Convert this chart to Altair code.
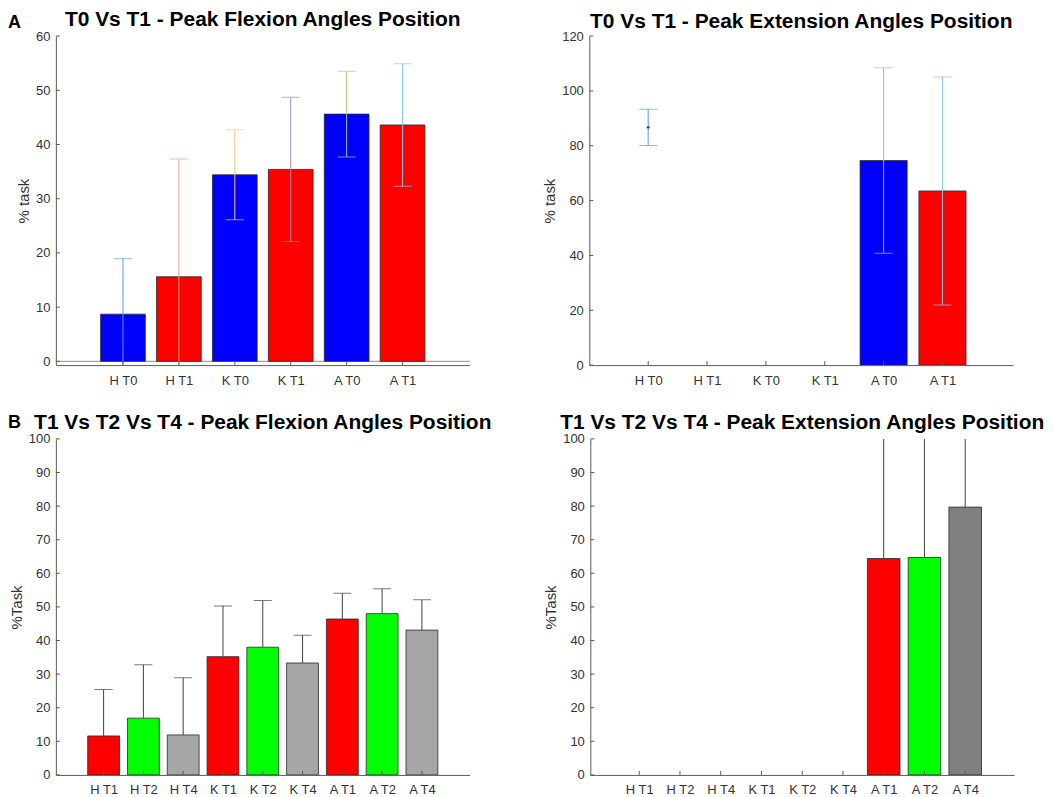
import json
import altair as alt
import pandas as pd

FONT = "Liberation Sans"

# ---------------- Panel A : T0 vs T1 ----------------
a_labels = ["H T0", "H T1", "K T0", "K T1", "A T0", "A T1"]
a_bar_colors = ["#0000FF", "#FF0000", "#0000FF", "#FF0000", "#0000FF", "#FF0000"]
a_err_colors = ["#5B9BD0", "#E3A585", "#EFCB6B", "#A985BD", "#A8C67E", "#86CBE8"]

a_flex_mean = [8.7, 15.6, 34.4, 35.4, 45.6, 43.6]
a_flex_err = [10.2, 21.7, 8.3, 13.3, 7.9, 11.3]

a_ext_bar = [None, None, None, None, 74.6, 63.5]
a_ext_mean = [86.7, None, None, None, 74.6, 63.5]
a_ext_err = [6.6, None, None, None, 33.8, 41.6]
a_ext_dot = [86.7, None, None, None, None, None]

# ---------------- Panel B : T1 vs T2 vs T4 ----------------
b_labels = ["H T1", "H T2", "H T4", "K T1", "K T2", "K T4", "A T1", "A T2", "A T4"]
b_flex_colors = ["#FF0000", "#00FF00", "#A6A6A6"] * 3
b_ext_colors = ["#FF0000", "#00FF00", "#808080"] * 3
b_err_colors = ["#404040"] * 9

b_flex_mean = [11.6, 16.9, 11.9, 35.2, 38.0, 33.3, 46.4, 48.0, 43.1]
b_flex_err = [13.8, 15.9, 17.0, 15.1, 13.9, 8.3, 7.7, 7.4, 9.0]

b_ext_mean = [0, 0, 0, 0, 0, 0, 64.4, 64.7, 79.7]
b_ext_err = [None, None, None, None, None, None, 44.0, 41.0, 27.0]

AXIS_COLOR = "#5a5a5a"
LABEL_COLOR = "#333333"
TITLE_SIZE = 21


def panel(labels, bar, mean, err, bar_colors, err_colors, xdom, ydom, yticks,
          title, ytitle, w, h, two_sided, title_offset, dots=None, baseline=False,
          letter=None, letter_y=-8):
    n = len(labels)
    pos = list(range(1, n + 1))
    xs = alt.Scale(domain=xdom, nice=False, zero=False)
    ys = alt.Scale(domain=ydom, nice=False, zero=False)
    label_expr = json.dumps(labels) + "[datum.value - 1]"
    xaxis = alt.Axis(values=pos, labelExpr=label_expr, ticks=False, tickSize=0,
                     grid=False, domainColor=AXIS_COLOR, labelColor=LABEL_COLOR,
                     labelFont=FONT, labelFontSize=13, labelPadding=9, title=None,
                     labelFlush=False)
    yaxis = alt.Axis(values=yticks, ticks=False, tickSize=0, grid=False,
                     domainColor=AXIS_COLOR, labelColor=LABEL_COLOR, labelFont=FONT,
                     labelFontSize=13, labelPadding=6, title=ytitle, titleFont=FONT,
                     titleFontSize=15, titleFontWeight="normal", titleColor=LABEL_COLOR,
                     titlePadding=4, labelFlush=False)

    def X(field):
        return alt.X(field, scale=xs, axis=xaxis, title=None)

    def Y(field):
        return alt.Y(field, scale=ys, axis=yaxis, title=ytitle)

    bar_rows = [dict(pos=p, v=b, c=c) for p, b, c in zip(pos, bar, bar_colors) if b is not None]
    bars_df = pd.DataFrame(bar_rows)
    bars = alt.Chart(bars_df).transform_calculate(
        x1="datum.pos - 0.4", x2="datum.pos + 0.4", base="0"
    ).mark_bar(strokeWidth=0.8, clip=True).encode(
        x=X("x1:Q"), x2="x2:Q", y=Y("v:Q"), y2="base:Q",
        color=alt.Color("c:N", scale=None),
        stroke=alt.condition("datum.v > 0", alt.value("#2a2a2a"), alt.value(None)),
    )

    err_rows, cap_rows = [], []
    for p, m, e, c in zip(pos, mean, err, err_colors):
        if m is None or e is None:
            continue
        lo = m - e if two_sided else m
        hi = m + e
        err_rows.append(dict(pos=p, lo=lo, hi=hi, c=c))
        cap_rows.append(dict(pos=p, y=hi, c=c))
        if two_sided:
            cap_rows.append(dict(pos=p, y=lo, c=c))
    err_df = pd.DataFrame(err_rows)
    cap_df = pd.DataFrame(cap_rows)

    rules = alt.Chart(err_df).mark_rule(strokeWidth=1, clip=True).encode(
        x=X("pos:Q"), y=Y("lo:Q"), y2="hi:Q",
        color=alt.Color("c:N", scale=None),
    )
    caps = alt.Chart(cap_df).mark_tick(orient="horizontal", size=18, thickness=1,
                                       clip=True).encode(
        x=X("pos:Q"), y=Y("y:Q"), color=alt.Color("c:N", scale=None),
    )

    # MATLAB-style inward ticks
    ytick_df = pd.DataFrame({"t": yticks})
    yt = alt.Chart(ytick_df).mark_rule(color=AXIS_COLOR, strokeWidth=1).encode(
        y=Y("t:Q"), x=alt.value(0), x2=alt.value(4)
    )
    xtick_df = pd.DataFrame({"pos": pos})
    xt = alt.Chart(xtick_df).mark_rule(color=AXIS_COLOR, strokeWidth=1).encode(
        x=X("pos:Q"), y=alt.value(h), y2=alt.value(h - 4)
    )

    layers = []
    if baseline:
        zero_df = pd.DataFrame({"z": [0]})
        layers.append(alt.Chart(zero_df).mark_rule(color="#8c8c8c", strokeWidth=1).encode(
            y=Y("z:Q")))
    layers += [bars, rules, caps]
    if dots is not None:
        dot_df = pd.DataFrame([dict(pos=p, y=d) for p, d in zip(pos, dots) if d is not None])
        layers.append(alt.Chart(dot_df).mark_point(filled=True, size=8, color="#1f4e79",
                                                   opacity=1).encode(
            x=X("pos:Q"), y=Y("y:Q")))
    layers += [yt, xt]
    if letter is not None:
        let_df = pd.DataFrame({"letter": [letter]})
        layers.append(alt.Chart(let_df).mark_text(
            font=FONT, fontSize=18, fontWeight="bold", color="#000000",
            align="left", baseline="alphabetic").encode(
            text="letter:N", x=alt.value(-48), y=alt.value(letter_y)))

    return alt.layer(*layers).properties(
        width=w, height=h,
        title=alt.TitleParams(text=title, font=FONT, fontSize=TITLE_SIZE, fontWeight="bold",
                              color="#000000", anchor="middle", offset=title_offset,
                              baseline="alphabetic"),
    )


H_TOP = 330
H_BOT = 337
tl = panel(a_labels, a_flex_mean, a_flex_mean, a_flex_err, a_bar_colors, a_err_colors,
           [-0.2, 7.2], [-0.7, 60], [0, 10, 20, 30, 40, 50, 60],
           "T0 Vs T1 - Peak Flexion Angles Position", "% task", 415, H_TOP, True, -33,
           baseline=True, letter="A", letter_y=-8)
tr = panel(a_labels, a_ext_bar, a_ext_mean, a_ext_err, a_bar_colors, a_err_colors,
           [0, 7.2], [0, 120], [0, 20, 40, 60, 80, 100, 120],
           "T0 Vs T1 - Peak Extension Angles Position", "% task", 425, H_TOP, True, -18.5,
           dots=a_ext_dot)
bl = panel(b_labels, b_flex_mean, b_flex_mean, b_flex_err, b_flex_colors, b_err_colors,
           [-0.2, 10.2], [0, 100], list(range(0, 101, 10)),
           "T1 Vs T2 Vs T4 - Peak Flexion Angles Position", "%Task", 415, H_BOT, False, -36,
           letter="B", letter_y=-11)
br = panel(b_labels, b_ext_mean, b_ext_mean, b_ext_err, b_ext_colors, b_err_colors,
           [-0.2, 10.2], [0, 100], list(range(0, 101, 10)),
           "T1 Vs T2 Vs T4 - Peak Extension Angles Position", "%Task", 425, H_BOT, False, -17.5)

chart = alt.vconcat(
    alt.hconcat(tl, tr, spacing=72),
    alt.hconcat(bl, br, spacing=51),
    spacing=25,
).properties(
    padding={"left": 0, "top": 0, "right": 0, "bottom": 0},
    background="white",
).configure_view(stroke=None)

chart.save("out.html", embed_options={"renderer": "svg", "actions": False})
